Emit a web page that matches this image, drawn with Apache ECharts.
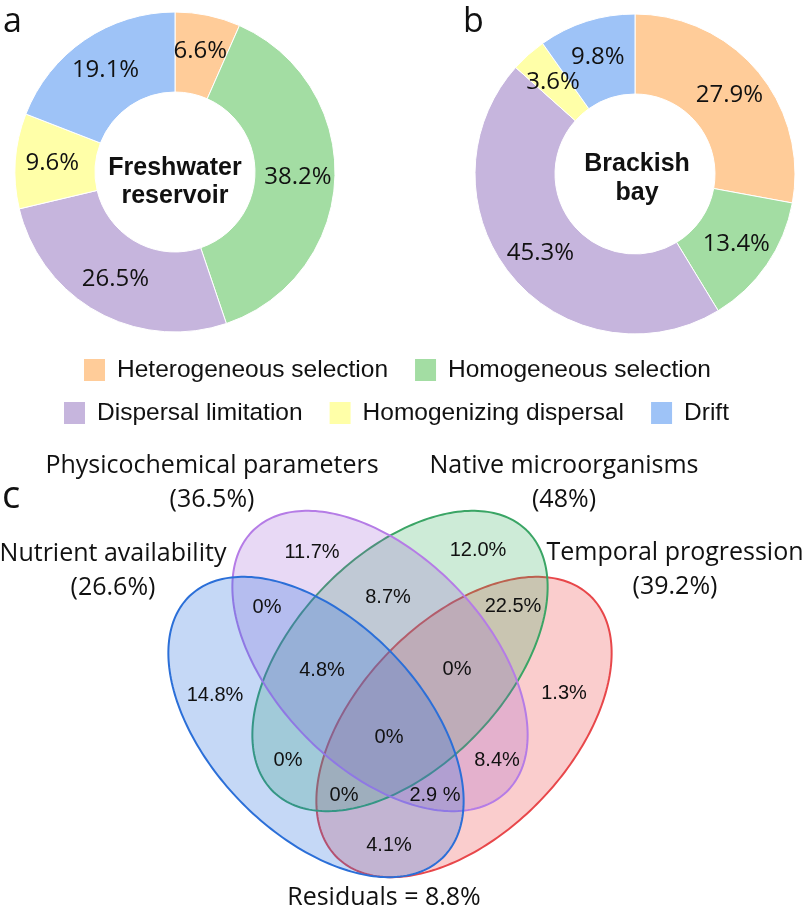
<!DOCTYPE html>
<html><head><meta charset="utf-8">
<script src="https://cdn.jsdelivr.net/npm/echarts@6/dist/echarts.min.js"></script>
<style>html,body{margin:0;padding:0;background:#fff}#c{width:804px;height:908px}</style>
</head><body><div id="c"></div>
<script>
// ---------- data ----------
const processNames = ['Heterogeneous selection','Homogeneous selection','Dispersal limitation','Homogenizing dispersal','Drift'];
const freshwaterShares = [6.6, 38.2, 26.5, 9.6, 19.1];
const brackishShares = [27.9, 13.4, 45.3, 3.6, 9.8];

const vennSets = ['Physicochemical parameters','Native microorganisms','Nutrient availability','Temporal progression'];
const vennSetShares = ['36.5%','48%','26.6%','39.2%'];
const vennRegionValues = ['11.7%','12.0%','0%','8.7%','22.5%','4.8%','0%','14.8%','1.3%','0%','0%','8.4%','0%','2.9 %','4.1%'];
const residualShare = '8.8%';

// ---------- layout & style ----------
const processColors = ['#FFCC99','#A3DDA3','#C6B5DD','#FFFFA8','#9EC3F7'];
const vennRegionPos = [[312,552],[478,550],[267,607],[388,597],[513,606],[322,670],[457,669],[215,695],[564,693],[389,737],[288,760],[497,760],[344,795],[435,795],[389,845]];
const vennSetPos = [[212,483],[564,483],[113,571],[675,570]];
const residualPos = [384,898];
// ellipse geometry (drawn bottom to top: Temporal, Native, Physicochemical, Nutrient): cx, cy, semi-major, semi-minor, angle(deg)
const ellipseGeom = [[464,727,182,106,-46],[400,661,182,106,-46],[380,661,182,106,46],[316,727,182,106,46]];
const ellipseStroke = ['#E8474A','#3AA565','#B57CE6','#2B6FD8'];
const ellipseFill = ['rgba(235,55,55,0.25)','rgba(55,175,95,0.25)','rgba(150,80,210,0.22)','rgba(40,110,220,0.27)'];

const chart = echarts.init(document.getElementById('c'), null, {renderer:'canvas'});

function pieSeries(name, values, center){
  return {
    type:'pie', name:name, center:center, radius:[80,160], startAngle:90, clockwise:true,
    avoidLabelOverlap:false,
    itemStyle:{borderColor:'#fff', borderWidth:1},
    label:{show:true, position:'inside', formatter:p=>p.value.toFixed(1)+'%',
      color:'#111', fontFamily:'Open Sans', fontSize:24},
    labelLine:{show:false},
    emphasis:{disabled:true},
    data: processNames.map((n,i)=>({name:n, value:values[i]}))
  };
}

const option = {
  animation:false,
  color: processColors,
  grid:{left:0,right:0,top:0,bottom:0},
  xAxis:{type:'value',min:0,max:804,show:false},
  yAxis:{type:'value',min:0,max:908,inverse:true,show:false},
  legend:[
    {left:82, top:357, padding:0, itemGap:25, itemWidth:23, itemHeight:24, icon:'rect',
     data:processNames.slice(0,2),
     textStyle:{fontFamily:'Liberation Sans', fontSize:24.5, color:'#111', padding:[0,0,0,6]}},
    {left:62, top:400, padding:0, itemGap:25, itemWidth:23, itemHeight:24, icon:'rect',
     data:processNames.slice(2),
     textStyle:{fontFamily:'Liberation Sans', fontSize:24.5, color:'#111', padding:[0,0,0,6]}}
  ],
  graphic:[
    {type:'text', x:3, y:22, style:{text:'a', font:'34px "Open Sans"', fill:'#111', verticalAlign:'middle'}},
    {type:'text', x:463, y:22, style:{text:'b', font:'34px "Open Sans"', fill:'#111', verticalAlign:'middle'}},
    {type:'text', x:2, y:497, style:{text:'c', font:'38px "Open Sans"', fill:'#111', verticalAlign:'middle'}},
    {type:'text', x:175, y:182, style:{text:'Freshwater\nreservoir', font:'bold 25px "Liberation Sans"', lineHeight:28, fill:'#111', align:'center', verticalAlign:'middle'}},
    {type:'text', x:637, y:179, style:{text:'Brackish\nbay', font:'bold 25px "Liberation Sans"', lineHeight:29, fill:'#111', align:'center', verticalAlign:'middle'}}
  ],
  series:[
    pieSeries('Freshwater reservoir', freshwaterShares, [175,172]),
    pieSeries('Brackish bay', brackishShares, [635,174]),
    {
      type:'custom', coordinateSystem:'cartesian2d', clip:false, silent:true, z:1,
      encode:{x:0,y:1},
      data: ellipseGeom,
      renderItem:function(params, api){
        const cx=api.value(0), cy=api.value(1), a=api.value(2), b=api.value(3), ang=api.value(4)*Math.PI/180;
        const pts=[];
        for(let i=0;i<240;i++){
          const t=i/240*2*Math.PI;
          const x=cx+a*Math.cos(t)*Math.cos(ang)-b*Math.sin(t)*Math.sin(ang);
          const y=cy+a*Math.cos(t)*Math.sin(ang)+b*Math.sin(t)*Math.cos(ang);
          pts.push(api.coord([x,y]));
        }
        return {type:'polygon', shape:{points:pts},
          style:{fill:ellipseFill[params.dataIndex], stroke:ellipseStroke[params.dataIndex], lineWidth:2}};
      }
    },
    {
      type:'scatter', z:3, silent:true, symbolSize:1, itemStyle:{color:'transparent', opacity:1},
      label:{show:true, position:'inside', formatter:p=>p.name, color:'#111', opacity:1, fontFamily:'Liberation Sans', fontSize:20},
      data: vennRegionValues.map((v,i)=>({name:v, value:vennRegionPos[i]}))
    },
    {
      type:'scatter', z:3, silent:true, symbolSize:1, itemStyle:{color:'transparent', opacity:1},
      label:{show:true, position:'inside', formatter:p=>p.name, color:'#111', opacity:1, fontFamily:'Open Sans', fontSize:25, lineHeight:34, align:'center'},
      data: vennSets.map((s,i)=>({name:s+'\n('+vennSetShares[i]+')', value:vennSetPos[i]}))
        .concat([{name:'Residuals = '+residualShare, value:residualPos}])
    }
  ]
};
chart.setOption(option);
</script>
</body></html>
